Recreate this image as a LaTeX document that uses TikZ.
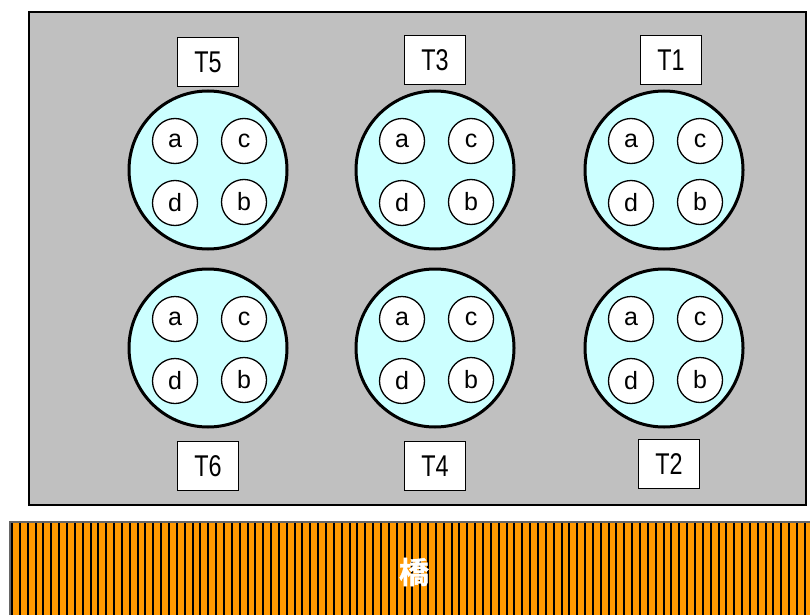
\documentclass[tikz,border=0pt]{standalone}
\usepackage{fontspec}
\setmainfont{Liberation Sans}
\newfontfamily\cjk{Noto Sans CJK JP Bold}[FakeBold=1.2]
\newfontfamily\narrowfont{Liberation Sans}[FakeStretch=0.78]
\definecolor{boxgray}{HTML}{C0C0C0}
\definecolor{tankcyan}{HTML}{CCFFFF}
\definecolor{bridgeorange}{HTML}{FF9900}
\begin{document}
\begin{tikzpicture}[x=1pt,y=-1pt,
  tank/.style={circle,draw=black,line width=3pt,fill=tankcyan,minimum size=158pt,inner sep=0pt},
  cell/.style={circle,draw=black,line width=1.3pt,fill=white,minimum size=45pt,inner sep=0pt,font=\fontsize{25}{25}\selectfont},
  tlabel/.style={draw=black,line width=1pt,fill=white,minimum width=61pt,minimum height=49pt,inner sep=0pt,font=\narrowfont\fontsize{30}{30}\selectfont}]
\useasboundingbox (0,0) rectangle (810,615);
\fill[white] (0,0) rectangle (810,615);
% yard
\draw[line width=2.2pt,fill=boxgray] (29,12) rectangle (806,505);
% bridge
\fill[bridgeorange] (10,522) rectangle (810,615);
\foreach \i in {0,...,101} {
  \draw[black,line width=2pt] ({12+7.85*\i},522) -- ({12+7.85*\i},615);
}
\draw[black!60,line width=1.2pt] (10,615) -- (10,522) -- (810,522);
\node[text=white,font=\cjk\fontsize{30}{30}\selectfont] (bridge) at (414,572) {橋};
% tanks
\foreach \nm/\cx/\cy in {T5/208/170, T3/435/170, T1/664/170, T6/208/348, T4/435/348, T2/664/348} {
  \node[tank] (\nm) at (\cx,\cy) {};
  \node[cell] (\nm a) at ({\cx-33},{\cy-29}) {a};
  \node[cell] (\nm c) at ({\cx+36},{\cy-29}) {c};
  \node[cell] (\nm d) at ({\cx-33},{\cy+33}) {d};
  \node[cell] (\nm b) at ({\cx+36},{\cy+32}) {b};
}
\node[tlabel] (L5) at (208,62) {T5};
\node[tlabel] (L3) at (435,60) {T3};
\node[tlabel] (L1) at (671,60) {T1};
\node[tlabel] (L6) at (208,466) {T6};
\node[tlabel] (L4) at (435,466) {T4};
\node[tlabel] (L2) at (669,464) {T2};
\end{tikzpicture}
\end{document}
